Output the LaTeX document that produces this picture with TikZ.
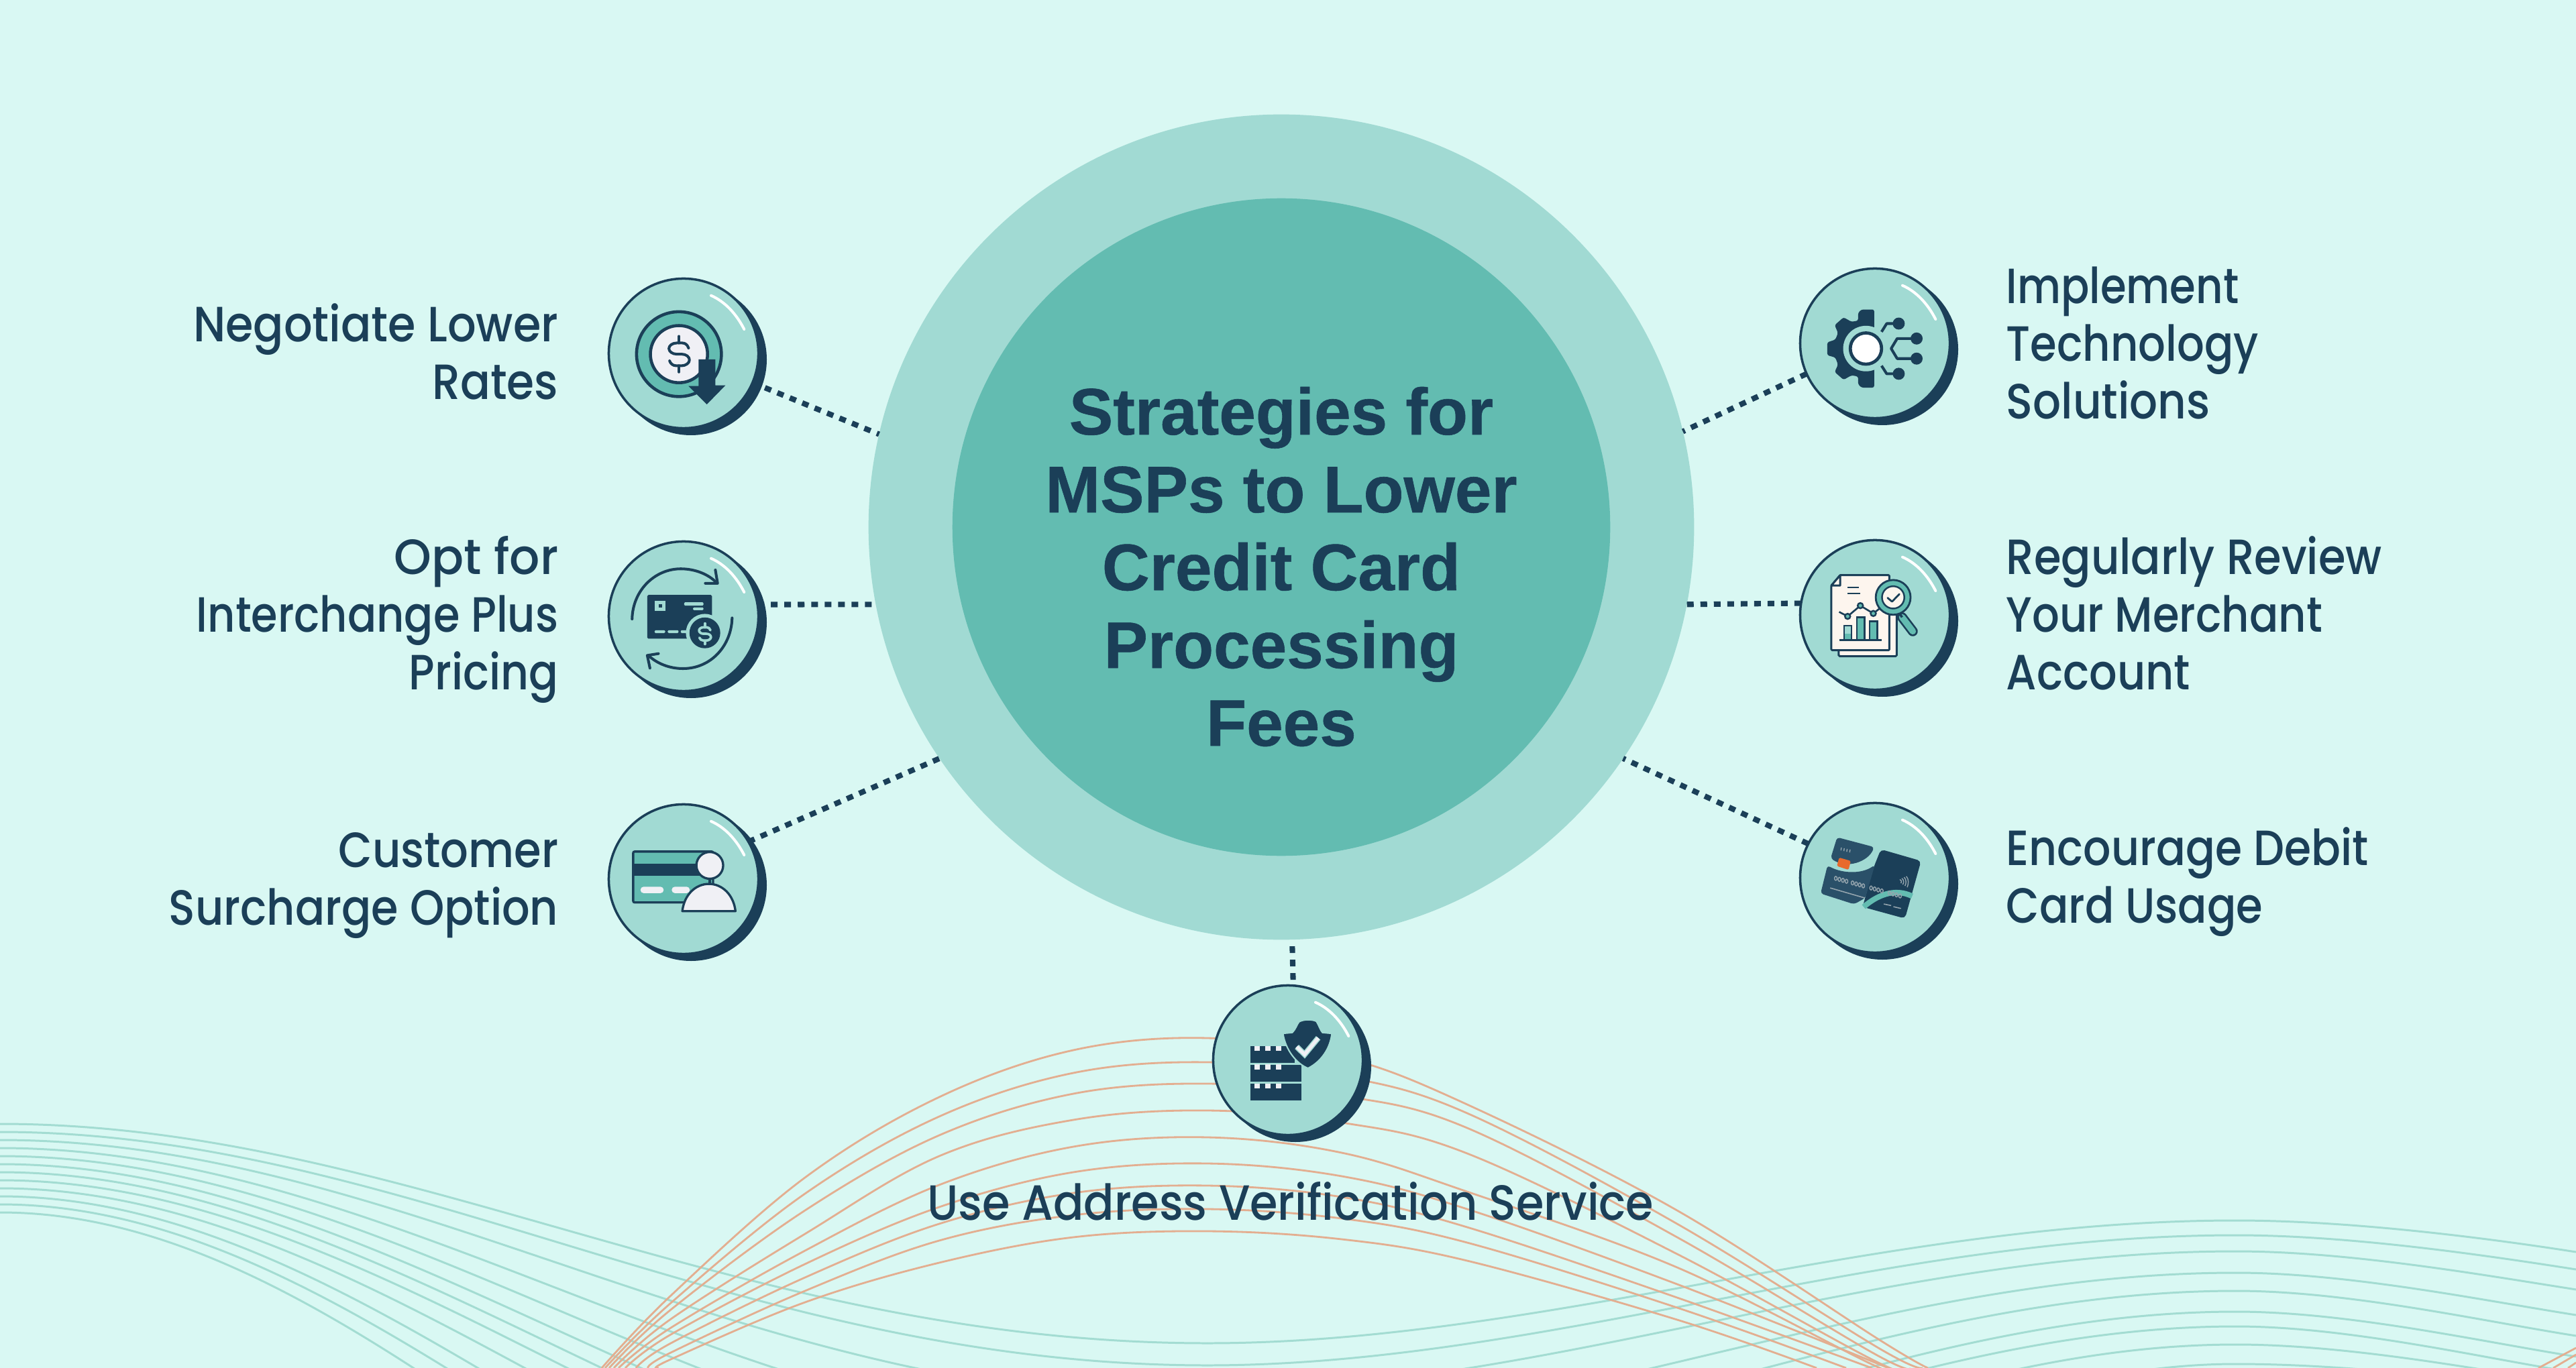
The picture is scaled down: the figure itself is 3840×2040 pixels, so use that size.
\documentclass[tikz,border=0pt]{standalone}
\usepackage{fontspec}
\usepackage{graphicx}
\usetikzlibrary{calc}
\newfontfamily\labfont[FakeStretch=0.907]{Poppins Medium}
\newfontfamily\titlefont[BoldFeatures={FakeBold=0.6}]{Liberation Sans}
\definecolor{bgc}{HTML}{D9F8F3}
\definecolor{lightc}{HTML}{A1DAD3}
\definecolor{tealc}{HTML}{63BCB1}
\definecolor{darkc}{HTML}{1B3F58}
\definecolor{navyc}{HTML}{2A5069}
\definecolor{orangec}{HTML}{E3AE90}
\definecolor{wavec}{HTML}{A3DCD2}
\definecolor{paperc}{HTML}{F0F0F5}
\definecolor{creamc}{HTML}{FDF5EE}
\definecolor{chipc}{HTML}{E8692C}
\definecolor{greyc}{HTML}{95A5AE}
\newcommand\lsa{\rule[-.2em]{0pt}{.95em}}
\newcommand\sx[2]{\lsa\scalebox{#1}[1]{#2}}
\newcommand\bubble[3]{%
  \fill[darkc] (#2+11,#3+9) circle[radius=113];
  \node[bubblenode] (#1) at (#2,#3) {};
  \begin{scope}[shift={(#2,#3)}]
    \draw[white,line width=1.14pt,line cap=round] (41,-86.3) .. controls (62,-77) and (78.7,-58.7) .. (90.3,-36);
  \end{scope}}
\newcommand\dollarmark[5]{%
  \begin{scope}[shift={(#1,#2)},scale=#3]
    \draw[#5,line width=#4,line cap=round,line join=round] (43,-27) .. controls (38,-42) and (28,-50) .. (15,-50) -- (-10,-50) .. controls (-30,-50) and (-45,-38) .. (-45,-25) .. controls (-45,-12) and (-30,0) .. (-10,0) -- (12,0) .. controls (32,0) and (47,12) .. (47,26) .. controls (47,40) and (30,52) .. (12,52) -- (-12,52) .. controls (-28,52) and (-38,42) .. (-42,30);
    \draw[#5,line width=#4,line cap=round] (0,-80) -- (0,-50) (0,52) -- (0,80);
  \end{scope}}
\tikzset{
  bubblenode/.style={circle,draw=darkc,fill=lightc,line width=1pt,minimum size=2.23cm,inner sep=0pt,outer sep=0pt},
  dots/.style={draw=darkc,line width=2.3pt,dash pattern=on 0.1cm off 0.1cm},
  lab/.style={text=darkc,inner sep=0pt,font=\labfont\fontsize{21}{24.47}\selectfont},
  wave/.style={wavec,line width=0.85pt},
  arch/.style={orangec,line width=0.8pt},
  zoomed/.style={x=0.003333cm,y=-0.003333cm},
}
\begin{document}
\begin{tikzpicture}[x=0.01cm,y=-0.01cm]
\path[use as bounding box,clip] (0,0) rectangle (3840,2040);
\fill[bgc] (0,0) rectangle (3840,2040);

% teal waves: left halves run down to the valley, right halves run up to the crest
\foreach \yz/\V in {1676/2003,1688/2036,1700/2088,1712/2155,1724/2209,1736/2260,1748/2299,1760/2337,1772/2395,1784/2476,1796/2535,1808/2608}
  \draw[wave] (0,\yz) .. controls (600,\yz) and (1100,\V) .. (1800,\V);
\foreach \V/\P/\E/\Ec in {2003/1820/1867/1845,2036/1842/1893/1871,2075/1866/1923/1901,2139/1898/1961/1939,2196/1925/1992/1970,2254/1956/2023/2001,2281/1978/2047/2025,2341/2005/2065/2043,2490/2034/2080/2058}
  \draw[wave] (1800,\V) .. controls (2300,\V) and (2800,\P) .. (3333,\P) .. controls (3500,\P) and (3700,\Ec) .. (3840,\E);

% orange arches
\foreach \xl/\a/\b/\c/\m/\p/\n/\d/\e/\f/\xr in {
 897/1932/1756/1636/1566/1548/1576/1647/1805/1997/2874,
 902/1943/1780/1665/1600/1584/1605/1660/1825/2010/2866,
 908/1953/1805/1693/1631/1616/1634/1682/1845/2022/2858,
 915/1967/1840/1724/1670/1656/1674/1720/1870/2032/2846,
 922/1980/1865/1767/1710/1696/1719/1777/1890/2039/2833}{
  \draw[arch] plot[smooth,tension=0.6] coordinates {(\xl,2040) (1000,\a) (1200,\b) (1400,\c) (1600,\m) (1800,\p) (2000,\n) (2187,\d) (2500,\e) (2800,\f) (\xr,2040)};
}
\foreach \xl/\a/\b/\c/\m/\p/\n/\d/\e/\xr in {
 932/1990/1885/1800/1748/1735/1754/1803/1915/2815,
 948/2003/1905/1825/1779/1768/1785/1830/1935/2790,
 966/2017/1925/1850/1812/1803/1817/1853/1950/2752,
 982/2027/1942/1883/1845/1836/1848/1880/1968/2708}{
  \draw[arch] plot[smooth,tension=0.6] coordinates {(\xl,2040) (1000,\a) (1200,\b) (1400,\c) (1600,\m) (1800,\p) (2000,\n) (2187,\d) (2500,\e) (\xr,2040)};
}
\draw[arch] (3784,2040) -- (3840,2010) (3806,2040) -- (3840,2020) (3828,2040) -- (3840,2032);

% central circles
\node[circle,fill=lightc,minimum size=12.3cm,inner sep=0pt,outer sep=0pt] (big) at (1910,786) {};
\node[circle,fill=tealc,minimum size=9.8cm,inner sep=0pt,outer sep=0pt] (inner) at (1910,786) {};
\node[text=darkc,align=center,inner sep=0pt,font=\titlefont\bfseries\fontsize{27.9}{33}\selectfont] (title) at (1910,845) {Strategies for\\MSPs to Lower\\Credit Card\\Processing\\Fees};

% bubbles
\bubble{n1}{1019}{527}
\bubble{n2}{1019}{919}
\bubble{n3}{1019}{1311}
\bubble{n4}{2795}{512}
\bubble{n5}{2795}{917}
\bubble{n6}{2795}{1309}
\bubble{n7}{1920}{1581}

% connectors
\path[dots] (n1.-23) -- ($(big.center)+(167:6.15cm)$);
\path[dots] (n2.9) -- ($(big.center)+(190.8:6.15cm)$);
\path[dots] (n3.30) -- ($(big.center)+(214.1:6.15cm)$);
\path[dots] (n4.204.6) -- ($(big.center)+(13.4:6.15cm)$);
\path[dots] (n5.171.9) -- ($(big.center)+(-10.8:6.15cm)$);
\path[dots] (n6.153.2) -- ($(big.center)+(-34.1:6.15cm)$);
\path[dots,dash phase=0.1cm] ($(big.center)+(-88.5:6.15cm)$) -- (n7.86.5);

% labels
\node[lab,anchor=east,align=right] (t1) at (833,531) {\lsa Negotiate Lower\\\sx{.99}{Rates}};
\node[lab,anchor=east,align=right] (t2) at (833,924) {\sx{1.06}{Opt for}\\\sx{.952}{Interchange Plus}\\\sx{.967}{Pricing}};
\node[lab,anchor=east,align=right] (t3) at (833,1319) {\sx{.978}{Customer}\\\sx{.975}{Surcharge Option}};
\node[lab,anchor=west,align=left] (t4) at (2990,518) {\sx{.934}{Implement}\\\sx{.956}{Technology}\\\sx{.984}{Solutions}};
\node[lab,anchor=west,align=left] (t5) at (2990,921) {\sx{.979}{Regularly Review}\\\sx{.955}{Your Merchant}\\\sx{.974}{Account}};
\node[lab,anchor=west,align=left] (t6) at (2990,1315) {\sx{.969}{Encourage Debit}\\\sx{.957}{Card Usage}};
\node[lab,align=center] (t7) at (1924,1798) {\lsa Use Address Verification Service};

% icon 1
\begin{scope}[shift={(880,390)},zoomed]
  \draw[darkc,fill=tealc,line width=1.3pt] (397,415) circle[radius=190];
  \draw[darkc,fill=paperc,line width=1.3pt] (397,415) circle[radius=128];
  \dollarmark{397}{415}{1}{1.15pt}{darkc}
  \fill[darkc] (485,438) -- (560,438) -- (560,555) -- (605,555) -- (522,640) -- (440,558) -- (485,558) -- cycle;
\end{scope}

% icon 2
\begin{scope}[shift={(880,790)},zoomed]
  \draw[darkc,line width=1.15pt,line cap=round,line join=round] (187,400) .. controls (190,270) and (290,175) .. (405,175) .. controls (470,175) and (530,200) .. (565,237);
  \draw[darkc,line width=1.15pt,line cap=round,line join=round] (560,180) -- (570,240) -- (515,240);
  \draw[darkc,line width=1.15pt,line cap=round,line join=round] (635,395) .. controls (632,520) and (540,622) .. (415,622) .. controls (355,622) and (300,600) .. (262,565);
  \draw[darkc,line width=1.15pt,line cap=round,line join=round] (305,555) -- (255,563) -- (267,620);
  \fill[darkc,rounded corners=.5pt] (255,292) rectangle (545,488);
  \fill[lightc] (288,320) rectangle (335,365);
  \fill[darkc] (305,335) rectangle (320,350);
  \fill[lightc,rounded corners=.4pt] (420,325) rectangle (507,340);
  \fill[lightc,rounded corners=.4pt] (460,348) rectangle (507,360);
  \fill[lightc,rounded corners=.4pt] (288,450) rectangle (335,463);
  \fill[lightc,rounded corners=.4pt] (347,450) rectangle (395,463);
  \fill[lightc,rounded corners=.4pt] (405,450) rectangle (440,463);
  \fill[lightc] (513,462) circle[radius=85];
  \fill[darkc] (513,462) circle[radius=69];
  \dollarmark{513}{466}{.58}{1.05pt}{lightc}
\end{scope}

% icon 3
\begin{scope}[shift={(880,1180)},zoomed]
  \draw[darkc,fill=tealc,line width=.95pt,rounded corners=.6pt] (192,270) rectangle (550,498);
  \fill[darkc] (192,323) rectangle (495,378);
  \fill[lightc] (556,350) rectangle (600,420);
  \fill[paperc,rounded corners=1.2pt] (225,428) rectangle (328,456);
  \fill[paperc,rounded corners=1.2pt] (365,428) rectangle (445,456);
  \draw[darkc,line width=.95pt] (535,392) -- (535,412);
  \draw[darkc,fill=paperc,line width=.95pt] (535,332) circle[radius=60];
  \draw[darkc,fill=paperc,line width=.95pt,line join=round] (412,537) .. controls (420,465) and (470,415) .. (531,415) .. controls (592,415) and (642,465) .. (650,537) -- cycle;
\end{scope}

% icon 4
\begin{scope}[shift={(2660,390)},zoomed]
  \fill[darkc,rounded corners=.8pt] (402,215) -- (345,215) -- (330,230) -- (330,265) -- (300,270) -- (265,250) -- (225,285) -- (240,320) -- (228,350) -- (192,362) -- (192,420) -- (228,430) -- (240,462) -- (225,495) -- (265,530) -- (300,510) -- (330,515) -- (330,550) -- (345,565) -- (402,565) -- cycle;
  \fill[lightc] (365,390) circle[radius=102];
  \draw[darkc,fill=white,line width=1.35pt] (365,390) circle[radius=70];
  \draw[darkc,line width=1.15pt,line join=round] (435,315) -- (458,278) -- (510,278);
  \draw[darkc,line width=1.15pt,line join=round] (435,467) -- (458,503) -- (510,503);
  \draw[darkc,line width=1.15pt,line join=round] (590,345) -- (505,345) -- (478,390) -- (505,435) -- (590,435);
  \fill[darkc] (512,278) circle[radius=27] (512,503) circle[radius=27] (592,345) circle[radius=27] (592,435) circle[radius=27];
\end{scope}

% icon 5
\begin{scope}[shift={(2660,790)},zoomed]
  \draw[darkc,fill=creamc,line width=.85pt,rounded corners=.5pt] (243,300) rectangle (503,567);
  \draw[darkc,fill=creamc,line width=.85pt,line join=round,rounded corners=.4pt] (250,203) -- (470,203) -- (470,540) -- (210,540) -- (210,250) -- cycle;
  \draw[darkc,fill=creamc,line width=.85pt,line join=round] (250,203) -- (250,250) -- (210,250) -- cycle;
  \draw[darkc,line width=.75pt] (282,258) -- (332,258) (282,285) -- (340,285);
  \draw[darkc,line width=.75pt,fill=lightc] (267,430) rectangle (300,495);
  \fill[tealc] (270,465) rectangle (297,492);
  \draw[darkc,line width=.75pt,fill=tealc] (324,392) rectangle (358,495);
  \draw[darkc,line width=.75pt,fill=tealc] (382,410) rectangle (416,495);
  \draw[darkc,line width=.85pt] (245,495) -- (437,495);
  \draw[darkc,line width=.75pt,line join=round] (245,368) -- (283,388) -- (340,340) -- (398,375) -- (430,350);
  \draw[darkc,fill=tealc,line width=.7pt] (283,388) circle[radius=12] (340,340) circle[radius=12] (398,375) circle[radius=12];
  \draw[darkc,line width=4.2pt,line cap=round] (527,392) -- (575,455);
  \draw[tealc,line width=2.7pt,line cap=round] (527,392) -- (575,455);
  \draw[darkc,line width=1pt] (512,370) -- (527,392);
  \draw[darkc,fill=tealc,line width=.8pt] (487,303) circle[radius=78];
  \draw[darkc,fill=creamc,line width=.7pt] (487,303) circle[radius=50];
  \draw[darkc,line width=.8pt,line cap=round,line join=round] (462,305) -- (482,322) -- (515,288);
\end{scope}

% icon 6
\begin{scope}[shift={(2660,1180)},zoomed]
  \fill[darkc,rounded corners=1.6pt] (432,260) -- (612,312) -- (540,570) -- (350,518) -- (400,340) -- cycle;
  \fill[navyc,rounded corners=1.2pt] (193,332) .. controls (250,365) and (340,375) .. (405,330) -- (362,478) -- (312,506) -- (162,458) -- cycle;
  \fill[navyc,rounded corners=1.2pt] (236,206) -- (402,250) .. controls (375,315) and (280,350) .. (207,300) -- cycle;
  \draw[tealc,line width=2.3pt] (355,518) .. controls (410,470) and (490,430) .. (572,470);
  \fill[chipc,rounded corners=.5pt] (245,297) -- (297,312) -- (287,352) -- (235,335) -- cycle;
  \foreach \x in {230,246,262,278,305,321,337,353,388,404,420,436,470,486,502,518}
    \draw[greyc,line width=.4pt] (\x,{388+(\x-222)*.2727}) circle[x radius=6,y radius=9];
  \draw[greyc,line width=.45pt] (205,433) -- (360,478);
  \draw[greyc,line width=.45pt] (445,505) -- (478,512) (488,517) -- (522,525);
  \draw[greyc,line width=.4pt] (255,252) -- (253,265) (268,255) -- (266,268) (281,258) -- (279,271) (294,261) -- (292,274);
  \draw[greyc,line width=.4pt] (517,395) .. controls (525,398) and (527,405) .. (522,412) (526,390) .. controls (536,398) and (536,408) .. (530,418) (536,385) .. controls (547,396) and (546,412) .. (540,424) (546,381) .. controls (558,394) and (556,415) .. (550,430);
\end{scope}

% icon 7
\begin{scope}[shift={(1780,1400)},zoomed]
  \fill[darkc] (253,480) rectangle (452,557);
  \fill[darkc] (253,565) rectangle (482,640);
  \fill[darkc] (253,648) rectangle (482,725);
  \foreach \y in {480,563,648}
    \foreach \x in {270,317,365}
      \fill[paperc] (\x,\y) rectangle ++(25,23);
  \draw[lightc,fill=darkc,line width=.6pt,line join=round] (398,424) -- (440,420) .. controls (455,405) and (460,385) .. (470,372) .. controls (490,360) and (530,360) .. (548,370) .. controls (558,385) and (565,410) .. (575,420) -- (617,424) .. controls (610,490) and (570,550) .. (510,580) .. controls (460,560) and (410,500) .. (398,424) -- cycle;
  \draw[lightc,line width=2.4pt,line join=miter] (460,484) -- (495,518) -- (556,444);
  \draw[paperc,line width=1.5pt,line join=miter] (460,484) -- (495,518) -- (556,444);
\end{scope}
\end{tikzpicture}
\end{document}
